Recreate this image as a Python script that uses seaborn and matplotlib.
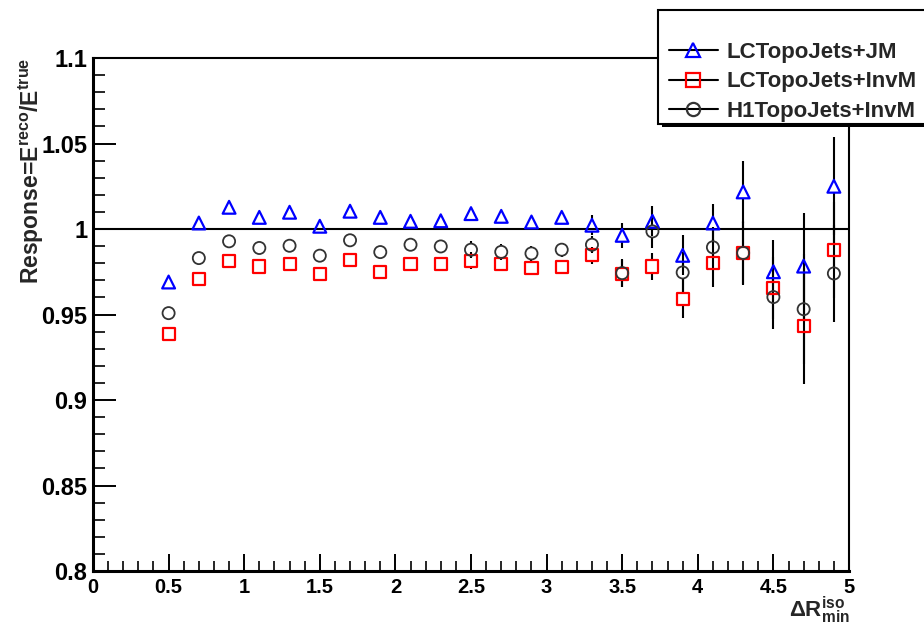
import matplotlib
matplotlib.use("Agg")
import matplotlib.pyplot as plt
from matplotlib.lines import Line2D
from matplotlib.patches import Rectangle
from matplotlib.ticker import FixedLocator, MultipleLocator
import pandas as pd
import seaborn as sns

sns.set_theme(style="white")
plt.rcParams["font.family"] = ["Liberation Sans", "DejaVu Sans"]
plt.rcParams["mathtext.fontset"] = "custom"
plt.rcParams["mathtext.rm"] = "Liberation Sans:bold"
plt.rcParams["mathtext.it"] = "Liberation Sans:bold"
plt.rcParams["mathtext.bf"] = "Liberation Sans:bold"
plt.rcParams["mathtext.default"] = "rm"

# Bin centres of Delta R_min^iso
dr = [0.5, 0.7, 0.9, 1.1, 1.3, 1.5, 1.7, 1.9, 2.1, 2.3, 2.5, 2.7,
      2.9, 3.1, 3.3, 3.5, 3.7, 3.9, 4.1, 4.3, 4.5, 4.7, 4.9]

# LCTopoJets+JM
resp_lc_jm = [0.9690, 1.0035, 1.0127, 1.0068, 1.0098, 1.0016, 1.0104, 1.0068,
              1.0045, 1.0048, 1.0090, 1.0074, 1.0041, 1.0068, 1.0022, 0.9963,
              1.0045, 0.9846, 1.0035, 1.0217, 0.9750, 0.9783, 1.0250]
err_lc_jm = [0.0020, 0.0015, 0.0015, 0.0015, 0.0015, 0.0015, 0.0015, 0.0015,
             0.0015, 0.0030, 0.0030, 0.0030, 0.0030, 0.0030, 0.0060, 0.0073,
             0.0088, 0.0117, 0.0110, 0.0180, 0.0187, 0.0310, 0.0287]

# LCTopoJets+InvM
resp_lc_invm = [0.9387, 0.9707, 0.9815, 0.9781, 0.9795, 0.9738, 0.9820, 0.9746,
                0.9795, 0.9793, 0.9815, 0.9795, 0.9770, 0.9779, 0.9846, 0.9738,
                0.9781, 0.9592, 0.9800, 0.9860, 0.9654, 0.9432, 0.9879]
err_lc_invm = [0.0020, 0.0015, 0.0015, 0.0015, 0.0015, 0.0015, 0.0015, 0.0015,
               0.0015, 0.0030, 0.0048, 0.0042, 0.0035, 0.0035, 0.0050, 0.0080,
               0.0078, 0.0113, 0.0140, 0.0186, 0.0180, 0.0340, 0.0280]

# H1TopoJets+InvM
resp_h1_invm = [0.9508, 0.9830, 0.9928, 0.9889, 0.9902, 0.9844, 0.9934, 0.9865,
                0.9908, 0.9898, 0.9879, 0.9866, 0.9857, 0.9879, 0.9908, 0.9742,
                0.9986, 0.9746, 0.9893, 0.9860, 0.9602, 0.9531, 0.9740]
err_h1_invm = [0.0020, 0.0015, 0.0015, 0.0015, 0.0015, 0.0015, 0.0015, 0.0015,
               0.0015, 0.0035, 0.0048, 0.0045, 0.0045, 0.0042, 0.0050, 0.0080,
               0.0097, 0.0120, 0.0120, 0.0180, 0.0187, 0.0320, 0.0285]

series_names = ["LCTopoJets+JM", "LCTopoJets+InvM", "H1TopoJets+InvM"]

x_ticks = [0, 0.5, 1, 1.5, 2, 2.5, 3, 3.5, 4, 4.5, 5]
x_tick_labels = ["0", "0.5", "1", "1.5", "2", "2.5", "3", "3.5", "4", "4.5", "5"]
y_ticks = [0.8, 0.85, 0.9, 0.95, 1.0, 1.05, 1.1]
y_tick_labels = ["0.8", "0.85", "0.9", "0.95", "1", "1.05", "1.1"]

frames = []
for name, vals, errs in zip(series_names,
                            [resp_lc_jm, resp_lc_invm, resp_h1_invm],
                            [err_lc_jm, err_lc_invm, err_h1_invm]):
    frames.append(pd.DataFrame({"dr": dr, "resp": vals, "err": errs, "algo": name}))
df = pd.concat(frames, ignore_index=True)

styles = {
    "LCTopoJets+JM": dict(marker="^", color="#0000ff", s=85, lw=1.6),
    "LCTopoJets+InvM": dict(marker="s", color="#ff0000", s=76, lw=1.6),
    "H1TopoJets+InvM": dict(marker="o", color="#333333", s=76, lw=1.3),
}

# Error bars leave a gap around the marker, as in ROOT's "E" drawing
MARKER_GAP = 0.0036

fig = plt.figure(figsize=(9.24, 6.3), dpi=100)
ax = fig.add_axes([93 / 924, 59 / 630, 756 / 924, 513 / 630])

ax.axhline(1.0, color="black", lw=1.5, zorder=1.5)

for name in series_names:
    sub = df[(df["algo"] == name) & (df["err"] > MARKER_GAP)]
    ax.vlines(sub["dr"], sub["resp"] + MARKER_GAP, sub["resp"] + sub["err"],
              color="black", lw=1.5, zorder=2)
    ax.vlines(sub["dr"], sub["resp"] - sub["err"], sub["resp"] - MARKER_GAP,
              color="black", lw=1.5, zorder=2)

for name in series_names:
    sub = df[df["algo"] == name]
    st = styles[name]
    sns.scatterplot(data=sub, x="dr", y="resp", ax=ax, marker=st["marker"],
                    s=st["s"], color=st["color"], facecolor="none",
                    edgecolor=st["color"], linewidth=st["lw"], zorder=3,
                    legend=False)

ax.set_xlim(0, 5)
ax.set_ylim(0.8, 1.1)
ax.xaxis.set_major_locator(FixedLocator(x_ticks))
ax.xaxis.set_minor_locator(MultipleLocator(0.1))
ax.yaxis.set_major_locator(FixedLocator(y_ticks))
ax.yaxis.set_minor_locator(MultipleLocator(0.01))
ax.set_xticklabels(x_tick_labels, fontweight="bold")
ax.set_yticklabels(y_tick_labels, fontweight="bold")
ax.set_xlabel("")
ax.set_ylabel("")

ax.tick_params(axis="x", which="major", direction="in", length=12.2, width=1.4,
               labelsize=14.5, pad=5, colors="black", bottom=True, top=False)
ax.tick_params(axis="x", which="minor", direction="in", length=7.2, width=1.4,
               bottom=True, top=False)
ax.tick_params(axis="y", which="major", direction="in", length=16.6, width=1.4,
               labelsize=17, pad=4, colors="black", left=True, right=False)
ax.tick_params(axis="y", which="minor", direction="in", length=8.6, width=1.4,
               left=True, right=False)

for side in ["left", "bottom"]:
    ax.spines[side].set_linewidth(2.2)
    ax.spines[side].set_color("black")
for side in ["top", "right"]:
    ax.spines[side].set_linewidth(1.5)
    ax.spines[side].set_color("black")

# Axis titles
fig.text(31 / 924, 1 - 58 / 630, r"Response=E$^{reco}$/E$^{true}$",
         rotation=90, ha="center", va="top", fontsize=16.5, fontweight="bold")
fig.text(850 / 924, 1 - 617 / 630, r"$\Delta R^{iso}_{min}$",
         ha="right", va="baseline", fontsize=16)

# Legend box with drop shadow
shadow = Rectangle((662 / 924, 1 - 127 / 630), 280 / 924, 114 / 630,
                   transform=fig.transFigure, facecolor="black",
                   edgecolor="black", lw=0, zorder=1)
box = Rectangle((658 / 924, 1 - 124 / 630), 280 / 924, 114 / 630,
                transform=fig.transFigure, facecolor="white",
                edgecolor="black", lw=1.5, zorder=1.1)
fig.add_artist(shadow)
fig.add_artist(box)

handles = [Line2D([0], [0], color="black", lw=1.5, marker=styles[n]["marker"],
                  ms=9.5, mfc="none", mec=styles[n]["color"], mew=1.6)
           for n in series_names]
fig.legend(handles, series_names, loc="upper left",
           bbox_to_anchor=(669 / 924, 1 - 42 / 630), frameon=False,
           borderpad=0, borderaxespad=0, handlelength=2.2, handletextpad=0.4,
           labelspacing=0.38, prop={"weight": "bold", "size": 16})

fig.savefig("out.png", dpi=100)
